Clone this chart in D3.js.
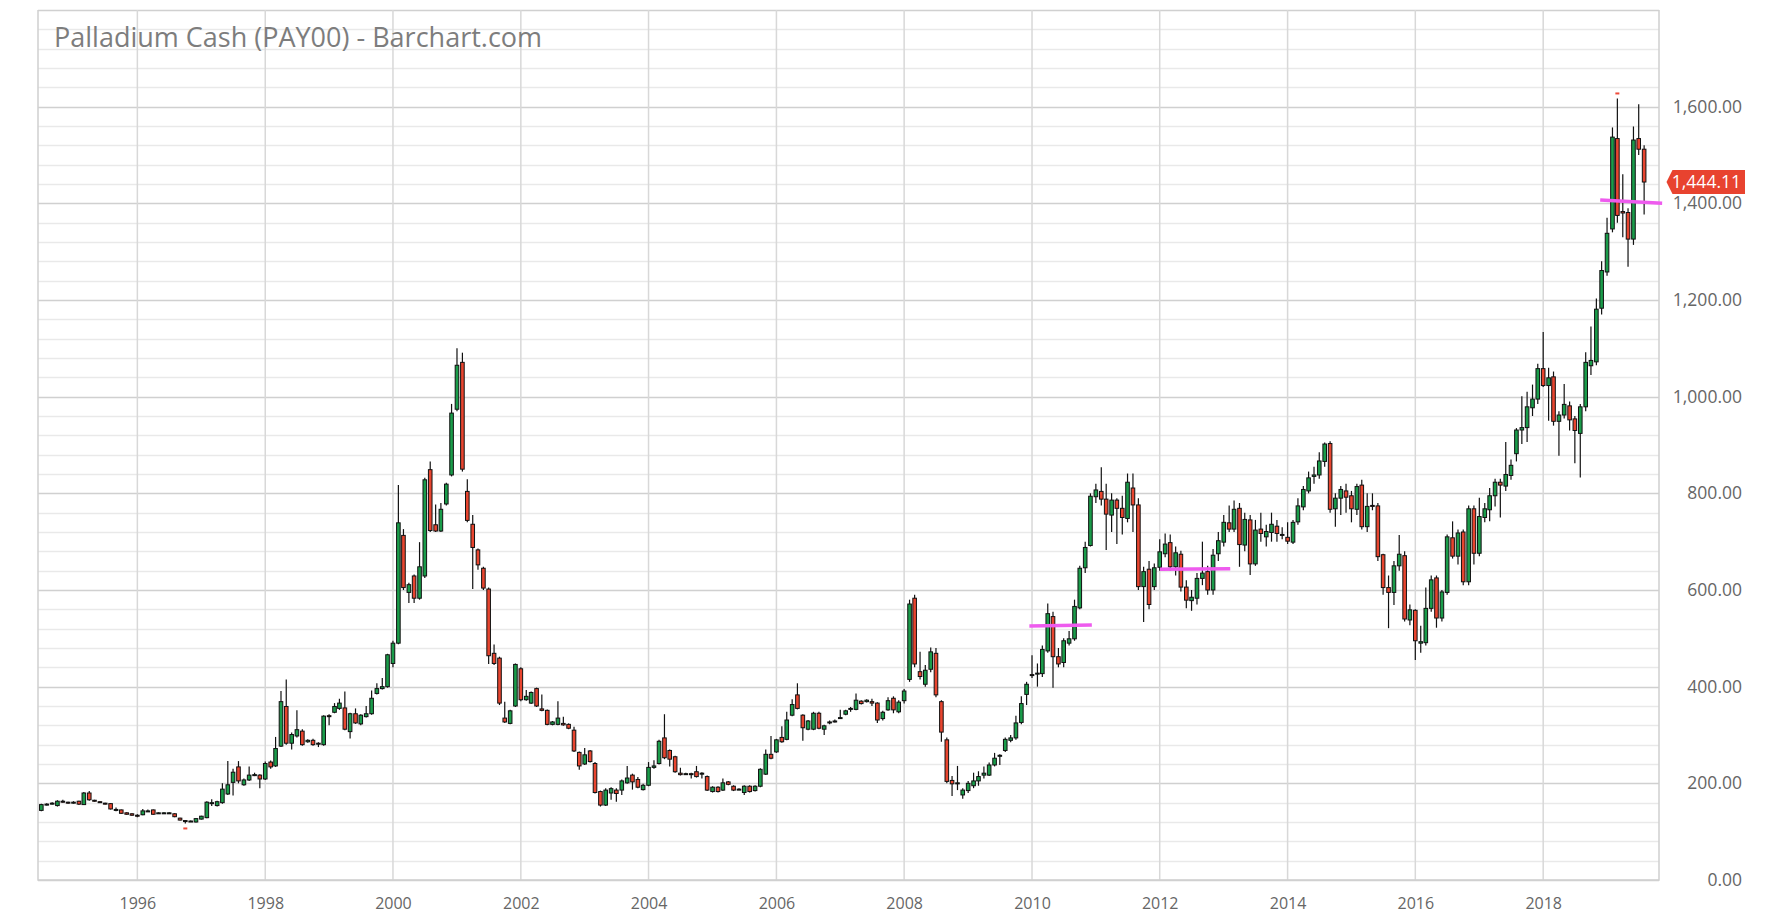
<!DOCTYPE html>
<html><head><meta charset="utf-8">
<script src="https://cdn.jsdelivr.net/npm/d3@7"></script>
<style>
body{margin:0;background:#fff;}
svg{display:block;font-family:"Open Sans",sans-serif;}
</style>
</head><body>
<svg id="chart" width="1780" height="914"></svg>
<script>
// ---------------- data ----------------
const chartTitle = "Palladium Cash (PAY00) - Barchart.com";
const firstMonth = [1994, 7];          // first monthly candle (Jul 1994)
const open = [
 144,156,158,154,163,161,
 160,163,156,180,165,162,159,158,146,145,139,137,
 134,135,143,145,139,139,139,137,128,123,122,120,
 126,129,160,154,160,178,202,234,197,207,218,217,
 209,244,236,277,359,283,298,308,286,289,283,280,
 340,347,355,356,307,344,323,338,344,386,396,400,
 448,490,713,595,629,583,629,849,735,722,778,838,
 974,1071,804,736,683,645,602,469,459,335,324,360,
 437,373,366,396,354,351,322,322,324,322,310,264,
 240,267,241,183,155,180,186,186,201,217,208,187,
 196,233,241,294,268,255,221,220,220,224,221,214,
 183,192,186,203,194,188,181,194,185,194,219,260,
 265,295,291,341,383,341,312,312,345,312,325,328,
 335,343,354,353,370,369,369,366,334,352,376,348,
 371,415,583,431,405,436,469,369,290,206,200,176,
 185,195,205,217,217,238,256,268,289,294,326,384,
 425,427,427,474,545,462,450,490,499,563,646,692,
 793,804,788,755,786,769,748,811,776,607,643,607,
 647,675,698,648,674,606,578,583,624,638,600,675,
 699,739,726,769,693,745,654,726,710,719,732,713,
 709,699,741,772,805,835,838,866,903,768,790,805,
 795,767,817,731,775,774,673,605,595,650,671,538,
 558,490,491,562,625,542,595,708,670,720,617,768,
 676,750,766,795,823,815,837,882,931,936,977,995,
 1058,1023,1041,949,962,981,954,924,979,1064,1072,1183,
 1258,1347,1534,1383,1381,1326,1534,1512
];
const high = [
 158,159,161,165,166,162,
 163,164,182,184,166,163,160,159,150,146,140,138,
 136,147,146,146,140,140,140,138,129,124,123,128,
 133,163,167,164,200,246,230,246,210,235,222,219,
 245,247,296,391,415,305,351,312,291,292,285,341,
 343,366,375,390,346,355,343,360,392,407,418,468,
 495,817,726,615,632,699,832,866,777,780,822,985,
 1100,1091,829,755,686,648,605,487,462,369,352,448,
 440,393,390,398,384,353,329,370,338,324,317,266,
 273,269,244,185,190,192,190,208,236,220,213,199,
 244,248,290,343,270,257,232,222,222,236,223,216,
 194,194,210,205,196,190,196,196,196,231,270,298,
 292,318,348,374,407,343,331,348,348,321,330,332,
 352,352,358,386,372,374,375,368,350,378,380,372,
 395,580,590,472,445,481,480,372,295,215,236,190,
 205,222,225,235,243,263,260,295,300,340,380,410,
 465,448,485,572,555,480,500,515,580,650,700,800,
 820,854,820,800,790,795,841,841,790,648,660,655,
 705,717,715,690,681,620,600,635,700,650,685,720,
 755,775,785,780,760,755,745,760,735,760,745,730,
 740,745,790,815,845,855,885,905,908,800,815,820,
 805,820,828,800,800,780,675,630,660,714,680,570,
 560,526,605,630,630,600,715,742,725,725,775,775,
 791,780,811,830,830,906,870,935,1001,1010,1025,1068,
 1134,1060,1052,970,1026,990,960,985,1092,1145,1203,1280,
 1370,1557,1617,1460,1390,1559,1605,1520
];
const low = [
 142,154,156,152,160,158,
 158,155,155,164,162,160,156,146,142,137,135,133,
 130,134,141,135,138,138,138,130,123,117,120,119,
 125,128,153,152,158,176,175,200,195,205,215,190,
 207,230,234,275,280,270,295,278,284,278,275,278,
 320,345,352,310,293,323,320,336,342,384,394,398,
 440,488,600,573,573,580,625,720,720,720,775,835,
 970,845,740,602,642,600,447,445,362,325,322,358,
 370,371,364,358,349,320,320,320,319,312,265,228,
 238,243,179,152,153,166,162,176,199,187,190,185,
 194,230,239,250,235,222,216,218,210,212,210,184,
 181,181,184,196,184,186,176,181,183,192,217,250,
 263,284,289,339,353,288,310,310,312,300,322,326,
 333,341,348,351,363,367,360,325,330,350,345,345,
 365,410,440,415,400,430,378,286,200,174,186,168,
 180,190,195,210,215,235,238,265,285,290,322,362,
 418,400,420,470,398,440,440,485,495,560,635,690,
 780,775,683,720,695,715,740,720,600,534,560,600,
 640,668,640,630,597,562,557,570,610,590,590,660,
 690,720,720,648,680,631,650,700,690,700,700,705,
 695,695,735,765,800,820,830,855,760,731,755,760,
 740,755,725,720,765,660,590,521,569,640,535,527,
 455,470,485,555,522,535,590,665,653,610,610,653,
 670,740,742,773,750,805,828,866,902,906,960,985,
 1020,950,940,878,955,930,862,833,970,1045,1065,1170,
 1250,1340,1360,1330,1269,1314,1500,1377
];
const close = [
 156,157,159,163,162,160,
 161,157,180,166,164,161,158,147,146,138,136,134,
 132,143,143,136,139,139,139,131,124,121,122,127,
 132,161,160,162,188,197,223,205,207,217,218,209,
 241,234,272,369,283,301,311,280,289,280,283,339,
 338,359,366,312,344,325,341,344,376,396,400,466,
 490,739,605,611,583,648,828,723,722,767,819,966,
 1065,850,744,688,652,604,464,448,366,327,350,446,
 373,380,388,360,351,322,327,335,321,314,267,236,
 259,245,181,155,186,189,179,205,211,203,192,196,
 233,236,287,253,250,224,218,220,218,214,221,186,
 192,183,201,198,186,188,194,183,194,229,260,252,
 290,286,331,363,355,315,329,345,314,319,327,329,
 336,350,355,372,365,372,366,331,347,371,352,368,
 391,571,447,421,434,472,383,306,204,199,201,186,
 200,205,214,221,238,252,258,291,294,325,365,405,
 423,428,477,551,462,447,495,499,566,645,688,794,
 807,788,757,786,769,750,823,776,607,638,570,646,
 679,695,648,677,606,579,585,624,635,600,672,702,
 740,726,767,694,746,654,724,717,721,736,717,715,
 701,740,774,808,832,838,867,902,767,790,808,792,
 768,814,731,773,773,669,605,595,650,674,540,559,
 495,493,562,621,542,596,710,670,718,617,768,676,
 752,768,795,823,817,839,858,931,936,979,995,1058,
 1023,1039,949,962,984,952,930,979,1071,1075,1181,1261,
 1338,1537,1375,1380,1326,1531,1512,1444.11
];
const yearTicks = [1996,1998,2000,2002,2004,2006,2008,2010,2012,2014,2016,2018];
const priceTicks = [0,200,400,600,800,1000,1200,1400,1600];
const lastPrice = 1444.11;
// magenta level lines drawn on the chart
const levelStart = ["2009-12-17","2012-01-03","2018-11-23"];
const levelEnd   = ["2010-12-09","2013-02-07","2019-11-12"];
const levelFrom  = [525.5, 642.8, 1407];
const levelTo    = [527.6, 644.0, 1400];

// ---------------- layout ----------------
const P = {left:38, right:1659, top:10, bottom:880};
const UP = "#1a9c4a", DOWN = "#e8452f";
const svg = d3.select("#chart");

const months = d3.range(open.length).map(i => new Date(firstMonth[0], firstMonth[1]-1+i, 1));
const data = months.map((d,i) => ({date:d, o:open[i], h:high[i], l:low[i], c:close[i]}));

const x = d3.scaleTime().domain([new Date(1994,5,12), new Date(2019,9,25)]).range([P.left, P.right]);
const y = d3.scaleLinear().domain([0,1800]).range([P.bottom, P.top]);

// grid
const grid = svg.append("g");
grid.selectAll(".minor").data(d3.range(0,1801,40).filter(v => v%200!==0)).join("line")
  .attr("x1",P.left).attr("x2",P.right).attr("y1",d=>Math.round(y(d))+0.5).attr("y2",d=>Math.round(y(d))+0.5)
  .attr("stroke","#e9e9e9").attr("stroke-width",1.5);
grid.selectAll(".major").data(d3.range(0,1801,200)).join("line")
  .attr("x1",P.left).attr("x2",P.right).attr("y1",d=>Math.round(y(d))+0.5).attr("y2",d=>Math.round(y(d))+0.5)
  .attr("stroke","#d0d0d0").attr("stroke-width",1.5);
grid.selectAll(".vert").data(yearTicks).join("line")
  .attr("x1",d=>x(new Date(d,0,1))).attr("x2",d=>x(new Date(d,0,1)))
  .attr("y1",P.top).attr("y2",P.bottom)
  .attr("stroke","#d8d8d8").attr("stroke-width",1.5);
// frame
svg.append("path").attr("d",`M${P.left},${P.top}V${P.bottom}H${P.right}V${P.top}`)
  .attr("fill","none").attr("stroke","#cfcfcf").attr("stroke-width",1.5);

// title
svg.append("text").attr("x",54).attr("y",47).attr("font-size",27).attr("fill","#7d7d7d").text(chartTitle);

// x axis labels
const xAxis = d3.axisBottom(x).tickValues(yearTicks.map(d=>new Date(d,0,1)))
  .tickFormat(d3.timeFormat("%Y")).tickSize(0).tickPadding(0);
const gx = svg.append("g").attr("transform",`translate(0,${P.bottom})`).call(xAxis);
gx.select(".domain").remove();
gx.selectAll("text").attr("y",29).attr("dy",0).attr("font-size",16).attr("fill","#666").attr("font-family","Open Sans");

// y axis labels
const yAxis = d3.axisRight(y).tickValues(priceTicks).tickFormat(d3.format(",.2f")).tickSize(0).tickPadding(0);
const gy = svg.append("g").attr("transform",`translate(1742,0)`).call(yAxis);
gy.select(".domain").remove();
gy.selectAll("text").attr("text-anchor","end").attr("x",0).attr("font-size",17.5).attr("fill","#666").attr("font-family","Open Sans");

// candles
const cg = svg.append("g");
const bw = 3.6;
cg.selectAll(".wick").data(data).join("line")
  .attr("x1",d=>x(d.date)).attr("x2",d=>x(d.date))
  .attr("y1",d=>y(d.h)).attr("y2",d=>y(d.l))
  .attr("stroke","#111").attr("stroke-width",1.2);
cg.selectAll(".body").data(data).join("rect")
  .attr("x",d=>x(d.date)-bw/2).attr("width",bw)
  .attr("y",d=>y(Math.max(d.o,d.c)))
  .attr("height",d=>Math.max(1,Math.abs(y(d.o)-y(d.c))))
  .attr("fill",d=>d.c>=d.o?UP:DOWN).attr("stroke","#111").attr("stroke-width",1);

// extreme markers
const hiIdx = d3.maxIndex(data,d=>d.h), loIdx = d3.minIndex(data,d=>d.l);
svg.append("rect").attr("x",x(data[hiIdx].date)-2).attr("y",y(data[hiIdx].h)-6).attr("width",4).attr("height",2).attr("fill","#ef4b3a");
svg.append("rect").attr("x",x(data[loIdx].date)-2).attr("y",y(data[loIdx].l)+4).attr("width",4).attr("height",2).attr("fill","#ef4b3a");

// level lines
const pd = d3.timeParse("%Y-%m-%d");
svg.append("g").selectAll("line").data(levelStart).join("line")
  .attr("x1",(d,i)=>x(pd(d))).attr("x2",(d,i)=>x(pd(levelEnd[i])))
  .attr("y1",(d,i)=>y(levelFrom[i])).attr("y2",(d,i)=>y(levelTo[i]))
  .attr("stroke","#ee5bee").attr("stroke-width",3.5);

// last price tag
const ly = y(lastPrice);
svg.append("path")
  .attr("d",`M1666.5,${ly} L1672.5,${ly-12} H1745 V${ly+12} H1672.5 Z`)
  .attr("fill","#e8432f");
svg.append("text").attr("x",1741).attr("y",ly).attr("dy","0.35em").attr("text-anchor","end")
  .attr("font-size",17.5).attr("fill","#fff").text(d3.format(",.2f")(lastPrice));
</script>
</body></html>
